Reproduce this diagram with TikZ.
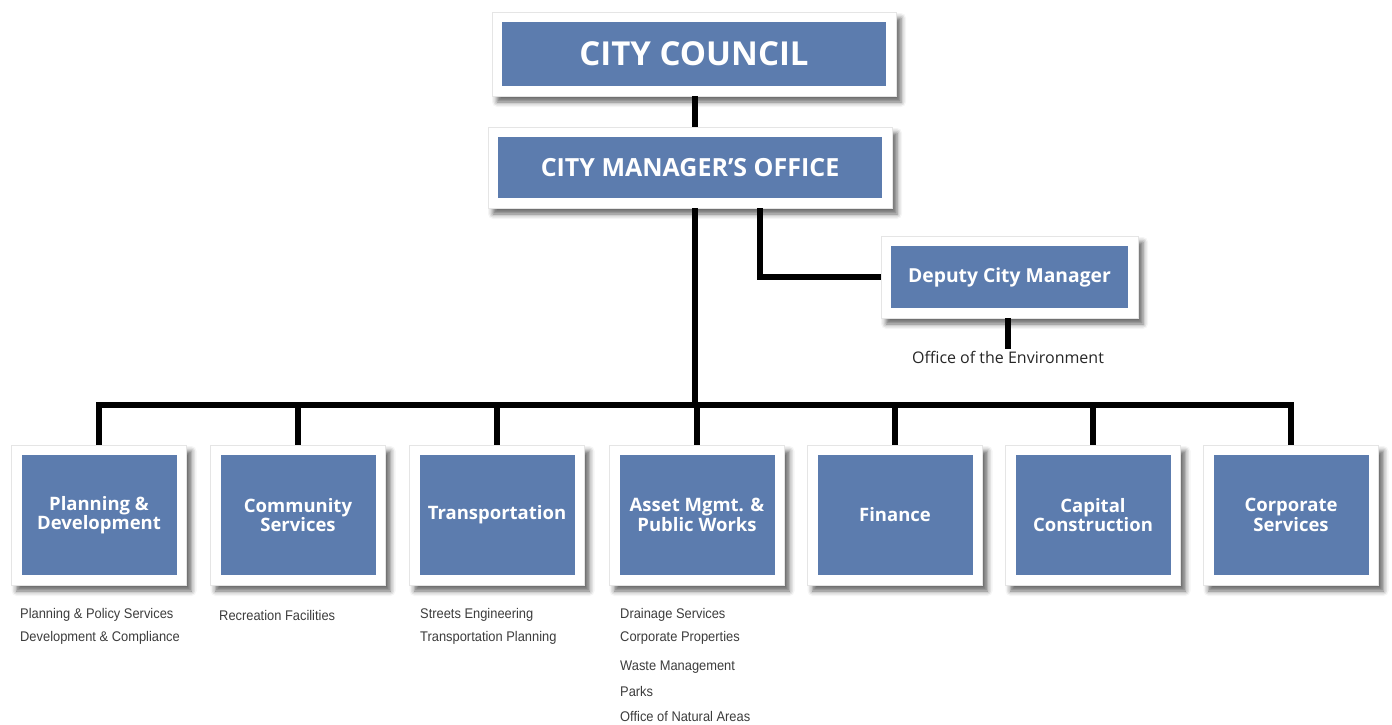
\documentclass[tikz,border=0pt]{standalone}
\usepackage{fontspec}
\setmainfont{Open Sans}
\newfontfamily\listfont[FakeStretch=0.92]{Liberation Sans}
\usetikzlibrary{shadows.blur}
\definecolor{boxblue}{RGB}{92,124,174}
\definecolor{listgray}{RGB}{60,60,60}
\tikzset{
  frame/.style={fill=white, draw=black!10, line width=0.6pt, inner sep=0pt,
    blur shadow={shadow xshift=5pt, shadow yshift=-6pt, shadow blur radius=5pt, shadow opacity=60},
    path picture={\fill[boxblue] ([shift={(10pt,10pt)}]path picture bounding box.south west)
      rectangle ([shift={(-10pt,-10pt)}]path picture bounding box.north east);},
    text=white, font=\bfseries, align=center},
  dept/.style={frame, minimum width=175pt, minimum height=140pt,
    font=\fontsize{18.5}{17.5}\selectfont\bfseries},
  conn/.style={draw=black, line width=5.5pt, line join=miter},
  sub/.style={anchor=west, inner sep=0pt, text=listgray, font=\listfont\fontsize{14}{14}\selectfont},
}
\begin{document}
\begin{tikzpicture}[x=1pt, y=-1pt]
\useasboundingbox (0,0) rectangle (1392,725);
% top boxes
\node[frame, minimum width=404pt, minimum height=84pt, font=\fontsize{33}{33}\selectfont\bfseries] (cc) at (694,54) {CITY COUNCIL};
\node[frame, minimum width=404pt, minimum height=81pt, font=\fontsize{25}{25}\selectfont\bfseries] (cmo) at (690,167.5) {CITY MANAGER’S OFFICE};
\node[frame, minimum width=257pt, minimum height=82pt, font=\fontsize{19.3}{19.3}\selectfont\bfseries] (dep) at (1009.5,277) {Deputy City Manager};
\node[inner sep=2pt, text=black!85, font=\fontsize{16}{16}\selectfont] (oe) at (1008,357) {Office of the Environment};
% departments
\node[dept] (pd) at (99,515) {Planning \&\\Development};
\node[dept] (cs) at (298,515) {Community\\Services};
\node[dept] (tr) at (497,515) {Transportation};
\node[dept] (am) at (697,515) {Asset Mgmt. \&\\Public Works};
\node[dept] (fi) at (895,515) {Finance};
\node[dept] (cc2) at (1093,515) {Capital\\Construction};
\node[dept] (co) at (1291,515) {Corporate\\Services};
% bus
\coordinate (bus) at (695,405);
% connectors
\draw[conn] (cc.south -| bus) -- (cmo.north -| bus);
\draw[conn] (cmo.south -| bus) -- (bus);
\draw[conn] ([xshift=70pt]cmo.south) |- (dep.west);
\draw[conn] (dep.south -| oe.north) -- (oe.north);
\draw[conn] (pd.north) |- (bus) -| (co.north);
\foreach \n in {cs,tr,am,fi,cc2} { \draw[conn] (\n.north) -- (\n.north |- bus); }
% sub-unit lists
\node[sub] (pd1) at (20,615) {Planning \& Policy Services};
\node[sub] (pd2) at (20,638) {Development \& Compliance};
\node[sub] (cs1) at (219,615) {Recreation Facilities};
\node[sub] (tr1) at (420,615) {Streets Engineering};
\node[sub] (tr2) at (420,638) {Transportation Planning};
\node[sub] (am1) at (620,615) {Drainage Services};
\node[sub] (am2) at (620,638) {Corporate Properties};
\node[sub] (am3) at (620,667) {Waste Management};
\node[sub] (am4) at (620,691) {Parks};
\node[sub] (am5) at (620,716) {Office of Natural Areas};
\end{tikzpicture}
\end{document}
